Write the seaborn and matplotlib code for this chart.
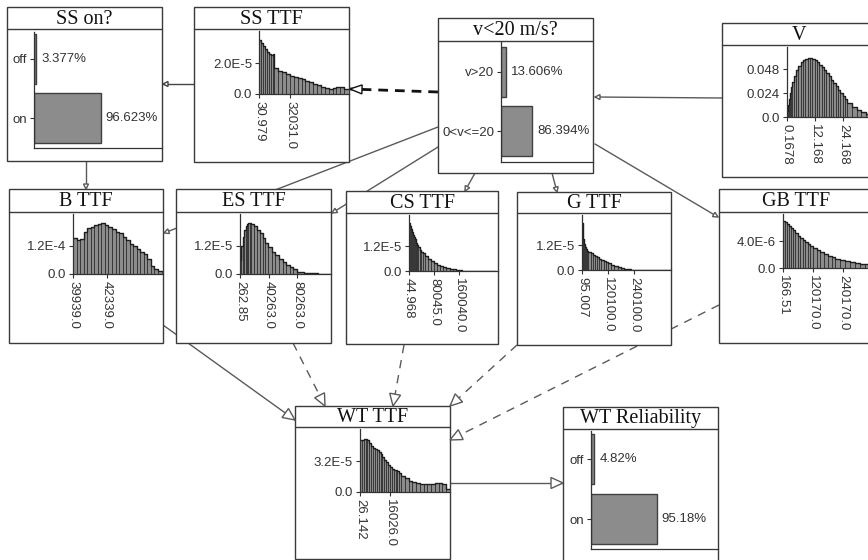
import numpy as np
import matplotlib
matplotlib.use("Agg")
import matplotlib.pyplot as plt
from matplotlib.patches import Rectangle, Polygon
import seaborn as sns


# ---- state nodes (percent) ----
ss_on_states = ["off", "on"]
ss_on_probs = [3.377, 96.623]

wind_states = ["v>20", "0<v<=20"]
wind_probs = [13.606, 86.394]

rel_states = ["off", "on"]
rel_probs = [4.82, 95.18]

# ---- continuous nodes: bin edges + density of each bin ----
ss_ttf_edges = [31, 2000, 4000, 6000, 8000, 10000, 12000, 14000, 16000, 20000, 24000, 28000,
                32000, 36000, 40000, 44000, 48000, 52000, 56000, 60000, 64000, 68000, 72000,
                76000, 80000, 84000, 88000, 93000]
ss_ttf_dens = np.array([3.5, 3.3, 3.1, 2.9, 2.7, 2.6, 2.5, 2.6, 1.7, 1.5, 1.4, 1.3, 1.15, 1.1,
                        1.0, 0.95, 0.85, 0.75, 0.65, 0.55, 0.45, 0.38, 0.33, 0.4, 0.45, 0.42,
                        0.3]) * 1e-5
ss_ttf_xticks = [30.979, 32031.0]
ss_ttf_yticks = [0.0, 2.0e-5]
ss_ttf_ylabels = ["0.0", "2.0E-5"]

v_edges = [0.17, 0.5, 1, 1.5, 2, 2.5, 3, 4, 5, 6, 7, 8, 9, 10, 11, 12, 13, 14, 15, 16, 17, 18,
           19, 20, 21, 22, 23, 24, 25, 26, 28, 30, 32, 34, 36, 40]
v_dens = [0.006, 0.012, 0.018, 0.024, 0.03, 0.035, 0.041, 0.047, 0.051, 0.055, 0.057, 0.058,
          0.059, 0.059, 0.058, 0.057, 0.055, 0.052, 0.05, 0.047, 0.044, 0.041, 0.037, 0.034,
          0.031, 0.027, 0.024, 0.021, 0.018, 0.014, 0.01, 0.007, 0.005, 0.003, 0.002]
v_xticks = [0.1678, 12.168, 24.168]
v_yticks = [0.0, 0.024, 0.048]
v_ylabels = ["0.0", "0.024", "0.048"]

b_ttf_edges = [39939, 40189, 40439, 40689, 40939, 41189, 41439, 41689, 41939, 42189, 42439,
               42689, 42939, 43189, 43439, 43689, 43939, 44189, 44439, 44689, 44939, 45189,
               45439, 45689, 45939, 46189]
b_ttf_dens = np.array([1.55, 1.45, 1.5, 1.8, 1.98, 2.02, 2.08, 2.15, 2.18, 2.1, 2.0, 1.92, 1.82,
                       1.74, 1.6, 1.45, 1.3, 1.18, 1.06, 0.95, 0.85, 0.65, 0.35, 0.2,
                       0.12]) * 1e-4
b_ttf_xticks = [39939.0, 42339.0]
b_ttf_yticks = [0.0, 1.2e-4]
b_ttf_ylabels = ["0.0", "1.2E-4"]

es_ttf_edges = [263, 2000, 4000, 6000, 8000, 10000, 12000, 14000, 16000, 20000, 24000, 28000,
                32000, 36000, 40000, 45000, 50000, 55000, 60000, 65000, 70000, 75000, 80000,
                90000, 100000, 110000, 126000]
es_ttf_dens = np.array([0.6, 1.2, 1.6, 1.9, 2.05, 2.15, 2.2, 2.2, 2.15, 2.05, 1.9, 1.75, 1.55,
                        1.35, 1.15, 0.95, 0.8, 0.65, 0.5, 0.38, 0.28, 0.2, 0.1, 0.05, 0.03,
                        0.02]) * 1e-5
es_ttf_xticks = [262.85, 40263.0, 80263.0]
es_ttf_yticks = [0.0, 1.2e-5]
es_ttf_ylabels = ["0.0", "1.2E-5"]

cs_ttf_edges = [45, 3000, 6000, 9000, 12000, 15000, 18000, 21000, 24000, 27000, 30000, 35000,
                40000, 45000, 50000, 60000, 70000, 80000, 90000, 100000, 110000, 120000,
                130000, 140000, 150000, 160000, 170000, 280000]
cs_ttf_dens = np.array([2.3, 2.15, 2.02, 1.88, 1.75, 1.63, 1.52, 1.42, 1.33, 1.25, 1.13, 1.02,
                        0.93, 0.85, 0.72, 0.58, 0.46, 0.38, 0.31, 0.25, 0.2, 0.16, 0.12, 0.09,
                        0.07, 0.05, 0.02]) * 1e-5
cs_ttf_xticks = [44.968, 80045.0, 160040.0]
cs_ttf_yticks = [0.0, 1.2e-5]
cs_ttf_ylabels = ["0.0", "1.2E-5"]

g_ttf_edges = [95, 3000, 6000, 10000, 15000, 20000, 25000, 30000, 40000, 50000, 60000, 70000,
               80000, 90000, 100000, 110000, 120000, 135000, 150000, 165000, 180000, 195000,
               210000, 225000, 410000]
g_ttf_dens = np.array([2.26, 1.85, 1.5, 1.25, 1.1, 1.0, 0.93, 0.86, 0.8, 0.73, 0.67, 0.61, 0.55,
                       0.49, 0.43, 0.38, 0.32, 0.26, 0.2, 0.15, 0.11, 0.07, 0.04,
                       0.015]) * 1e-5
g_ttf_xticks = [95.007, 120100.0, 240100.0]
g_ttf_yticks = [0.0, 1.2e-5]
g_ttf_ylabels = ["0.0", "1.2E-5"]

gb_ttf_edges = [167, 8000, 16000, 24000, 32000, 40000, 50000, 60000, 70000, 80000, 90000,
                100000, 110000, 120000, 135000, 150000, 165000, 180000, 195000, 210000, 230000,
                250000, 270000, 290000, 310000, 330000, 360000]
gb_ttf_dens = np.array([6.95, 6.8, 6.5, 6.2, 5.9, 5.6, 5.2, 4.8, 4.45, 4.1, 3.8, 3.55, 3.3, 3.0,
                        2.7, 2.4, 2.1, 1.85, 1.6, 1.4, 1.2, 1.05, 0.9, 0.78, 0.65,
                        0.55]) * 1e-6
gb_ttf_xticks = [166.51, 120170.0, 240170.0]
gb_ttf_yticks = [0.0, 4.0e-6]
gb_ttf_ylabels = ["0.0", "4.0E-6"]

wt_ttf_edges = [26, 1000, 2000, 3000, 4000, 5000, 6000, 7000, 8000, 9000, 10000, 11000, 12000,
                13000, 14000, 15000, 16000, 17000, 18000, 19000, 20000, 21000, 22000, 24000,
                26000, 28000, 30000, 32000, 34000, 36000, 38000, 40000, 42000, 44000, 46000,
                48000]
wt_ttf_dens = np.array([5.35, 5.4, 5.45, 5.45, 5.4, 5.1, 4.7, 4.5, 4.4, 4.3, 4.15, 3.9, 3.6, 3.3,
                        3.05, 2.8, 2.55, 2.4, 2.3, 2.25, 2.15, 2.0, 1.7, 1.4, 1.15, 1.0, 0.9,
                        0.85, 0.8, 0.8, 0.82, 0.9, 0.95, 0.85, 0.3]) * 1e-5
wt_ttf_xticks = [26.142, 16026.0]
wt_ttf_yticks = [0.0, 3.2e-5]
wt_ttf_ylabels = ["0.0", "3.2E-5"]


W, H = 868, 560
GREY = "#8c8c8c"
INK = "#333333"
LINK = "#5a5a5a"

sns.set_theme(style="white")
plt.rcParams["font.family"] = ["Liberation Sans", "DejaVu Sans"]
plt.rcParams["lines.scale_dashes"] = False

fig = plt.figure(figsize=(W / 100, H / 100), dpi=100)
bg = fig.add_axes([0, 0, 1, 1])
bg.set_xlim(0, W)
bg.set_ylim(H, 0)
bg.axis("off")


def rect(x0, y0, x1, y1):
    # pixel box (y down) -> figure fraction
    return [x0 / W, 1 - y1 / H, (x1 - x0) / W, (y1 - y0) / H]


def node_box(title, x0, y0, x1, y1, tb):
    bg.add_patch(Rectangle((x0, y0), x1 - x0, y1 - y0, fc="white", ec="#3a3a3a", lw=1, zorder=2))
    bg.plot([x0, x1], [tb, tb], color="#3a3a3a", lw=1, zorder=2.5)
    bg.text((x0 + x1) / 2, (y0 + tb) / 2 + 1, title, ha="center", va="center",
            fontsize=14.5, family="Liberation Serif", color="#111111", zorder=3)


def style_axis(ax):
    sns.despine(ax=ax)
    for s in ("left", "bottom"):
        ax.spines[s].set_color(INK)
        ax.spines[s].set_linewidth(0.9)
    ax.tick_params(direction="out", length=3, width=0.8, color=INK, labelcolor=INK,
                   labelsize=9.5, pad=2, left=True, bottom=True)
    ax.set_xlabel("")
    ax.set_ylabel("")
    ax.patch.set_alpha(0)


def hist_node(area, edges, dens, xticks, yticks, ylabels, xtick_px, ytick_px):
    x0, y0, x1, yb = area
    ax = fig.add_axes(rect(x0, y0, x1, yb))
    e = np.asarray(edges, dtype=float)
    centers = list((e[:-1] + e[1:]) / 2)
    sns.histplot(x=centers, weights=list(dens), bins=list(edges), stat="count",
                 color=GREY, edgecolor="#2a2a2a", linewidth=0.55, alpha=1, ax=ax)
    # dark silhouette along the top of the bins
    sns.histplot(x=centers, weights=list(dens), bins=list(edges), stat="count",
                 element="step", fill=False, color="#1e1e1e", linewidth=1.0, ax=ax)
    ax.set_xlim(xticks[0], xticks[0] + (xticks[1] - xticks[0]) * (x1 - x0) / (xtick_px - x0))
    ax.set_ylim(0, yticks[-1] * (yb - y0) / (yb - ytick_px))
    ax.set_xticks(xticks, [str(t) for t in xticks], rotation=-90)
    ax.set_yticks(yticks, ylabels)
    style_axis(ax)
    return ax


def state_node(area, states, probs, xmax, ylim):
    x0, y0, x1, yb = area
    ax = fig.add_axes(rect(x0, y0, x1, yb))
    sns.barplot(x=probs, y=states, orient="h", color=GREY, edgecolor="#404040", linewidth=1,
                width=0.84, saturation=1, ax=ax)
    ax.bar_label(ax.containers[0], labels=[f"{p}%" for p in probs], padding=3.5,
                 fontsize=9.5, color=INK)
    ax.set_xlim(0, xmax)
    ax.set_ylim(*ylim)
    ax.set_xticks([])
    style_axis(ax)
    return ax


def link(p, q, color=LINK, lw=1.0, dashes=None, head=(5, 2.5)):
    ls = (0, dashes) if dashes else "-"
    bg.plot([p[0], q[0]], [p[1], q[1]], color=color, lw=lw, ls=ls, zorder=1)
    d = np.subtract(q, p).astype(float)
    d /= np.hypot(*d)
    n = np.array([-d[1], d[0]])
    base = np.array(q, dtype=float) - head[0] * d
    tri = [q, base + head[1] * n, base - head[1] * n]
    bg.add_patch(Polygon(tri, closed=True, fc="white", ec=color, lw=1, zorder=4))


# ---- links (drawn first, boxes cover them) ----
big = (12, 5.5)
link((194, 84), (163, 84), color="#444444")
link((722, 98), (595, 97))
link((86, 161), (86, 189))
link((438, 127), (164, 233))
link((438, 147), (332, 213))
link((475, 173), (465, 191))
link((552, 173), (557, 192))
link((595, 144), (718, 217))
link((438, 92), (350, 89), color="#111111", lw=2, dashes=(7, 5), head=(12, 4.5))
link((163, 325), (295, 420), head=big)
link((293, 343), (325, 406), dashes=(6, 5), head=big)
link((404, 345), (393, 406), dashes=(6, 5), head=big)
link((517, 345), (450, 406), dashes=(6, 5), head=big)
link((719, 305), (450, 440), dashes=(6, 5), head=big)
link((450, 483), (563, 483), head=big)

# ---- node boxes ----
node_box("SS on?", 7, 7, 162, 161, 29)
node_box("SS TTF", 194, 7, 349, 162, 29)
node_box("v<20 m/s?", 438, 18, 593, 173, 41)
node_box("V", 722, 23, 877, 177, 45)
node_box("B TTF", 9, 189, 163, 343, 212)
node_box("ES TTF", 176, 189, 331, 343, 212)
node_box("CS TTF", 346, 191, 498, 344, 213)
node_box("G TTF", 517, 192, 671, 345, 213)
node_box("GB TTF", 719, 189, 874, 343, 212)
node_box("WT TTF", 295, 406, 450, 559, 427)
node_box("WT Reliability", 563, 407, 718, 561, 429)

# ---- node contents ----
state_node((34, 32, 162, 148), ss_on_states, ss_on_probs, 184.6, (1.5, -0.45))
state_node((501, 42, 593, 162), wind_states, wind_probs, 256, (1.52, -0.5))
state_node((591, 431, 718, 549), rel_states, rel_probs, 183.2, (1.5, -0.47))

hist_node((259, 31, 349, 94), ss_ttf_edges, ss_ttf_dens, ss_ttf_xticks,
          ss_ttf_yticks, ss_ttf_ylabels, 290, 63)
hist_node((787, 47, 877, 117), v_edges, v_dens, v_xticks,
          v_yticks, v_ylabels, 815, 69)
hist_node((73, 214, 163, 274), b_ttf_edges, b_ttf_dens, b_ttf_xticks,
          b_ttf_yticks, b_ttf_ylabels, 107, 246)
hist_node((240, 214, 331, 274), es_ttf_edges, es_ttf_dens, es_ttf_xticks,
          es_ttf_yticks, es_ttf_ylabels, 268.5, 246)
hist_node((409, 215, 498, 271), cs_ttf_edges, cs_ttf_dens, cs_ttf_xticks,
          cs_ttf_yticks, cs_ttf_ylabels, 434, 246)
hist_node((582, 215, 671, 270), g_ttf_edges, g_ttf_dens, g_ttf_xticks,
          g_ttf_yticks, g_ttf_ylabels, 608, 245)
hist_node((783, 214, 874, 268), gb_ttf_edges, gb_ttf_dens, gb_ttf_xticks,
          gb_ttf_yticks, gb_ttf_ylabels, 813, 241)
hist_node((360, 429, 450, 492), wt_ttf_edges, wt_ttf_dens, wt_ttf_xticks,
          wt_ttf_yticks, wt_ttf_ylabels, 390, 461)

fig.savefig("out.png", dpi=100)
